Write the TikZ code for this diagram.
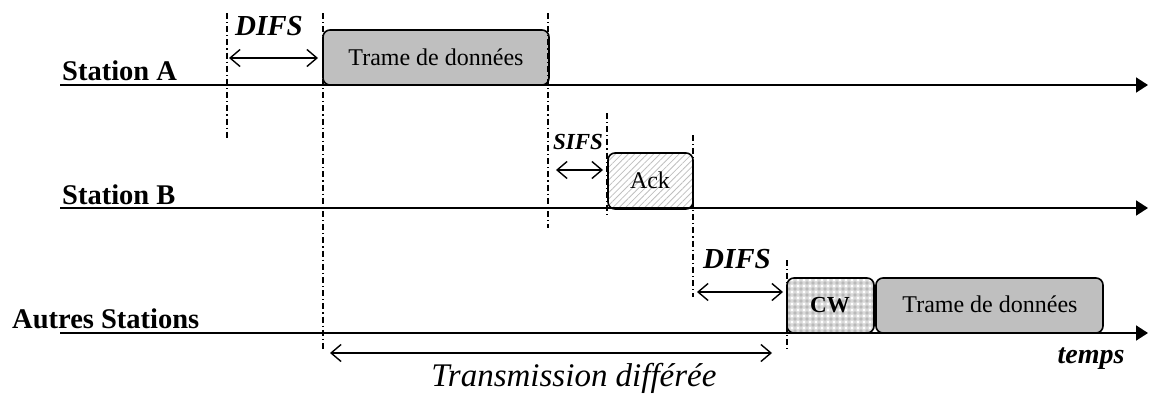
\documentclass[tikz,border=0pt]{standalone}
\usepackage{fontspec}
\setmainfont{Liberation Serif}
\usetikzlibrary{arrows.meta,patterns.meta}
\begin{document}
\begin{tikzpicture}[x=1pt,y=-1pt,
  timeline/.style={line width=1.8pt, -{Triangle[length=12pt,width=15pt]}},
  guide/.style={line width=1.1pt, dash pattern=on 6pt off 3pt on 1.2pt off 3pt},
  span/.style={line width=1.4pt, {Straight Barb[length=10pt,width=17pt,line width=1.4pt]}-{Straight Barb[length=10pt,width=17pt,line width=1.4pt]}},
  frame/.style={draw, line width=1.6pt, rounded corners=7pt, inner sep=0pt, outer sep=0pt, anchor=north west},
  station/.style={font=\fontsize{28.5}{32}\selectfont\bfseries, anchor=base west, inner sep=0pt},
  boxtext/.style={font=\fontsize{24}{28}\selectfont, anchor=base, inner sep=0pt},
  ifs/.style={font=\fontsize{29}{32}\selectfont\bfseries\itshape, anchor=base, inner sep=0pt},
]
\useasboundingbox (0,0) rectangle (1149,394);

% boxes
\node[frame, fill=gray!50, minimum width=226pt, minimum height=55pt] (trameA) at (323,30) {};
\node[frame, fill=white, pattern={Lines[angle=45,distance=4.5pt,line width=0.8pt]}, pattern color=gray!50, minimum width=85pt, minimum height=56pt] (ack) at (608,153) {};
\node[frame, preaction={fill=gray!30},
  preaction={pattern={Dots[radius=1.6pt,distance=6pt]}, pattern color=white},
  pattern={Dots[radius=1.9pt,distance=6pt,xshift=3pt,yshift=3pt]}, pattern color=gray!55,
  minimum width=87pt, minimum height=55pt] (cw) at (787,278) {};
\node[frame, fill=gray!50, minimum width=227pt, minimum height=55pt] (trameB) at (876,278) {};

% box texts
\node[boxtext] (tA) at (436,65) {Trame de données};
\node[boxtext] (tAck) at (650,188) {Ack};
\node[boxtext, font=\fontsize{23}{28}\selectfont\bfseries] (tCW) at (830,312) {CW};
\node[boxtext] (tB) at (990,312) {Trame de données};

% timelines
\coordinate (sA) at (60,85);  \coordinate (eA) at (1148,85);
\coordinate (sB) at (60,208); \coordinate (eB) at (1148,208);
\coordinate (sC) at (60,333); \coordinate (eC) at (1148,333);
\draw[timeline] (sA) -- (eA);
\draw[timeline] (sB) -- (eB);
\draw[timeline] (sC) -- (eC);

% station labels
\node[station] (labA) at (62,80) {Station A};
\node[station] (labB) at (62,204) {Station B};
\node[station] (labC) at (12,328) {Autres Stations};

% guides
\coordinate (g1t) at (227,13);  \coordinate (g1b) at (227,138);
\coordinate (g2t) at (323,13);  \coordinate (g2b) at (323,350);
\coordinate (g3t) at (548,13);  \coordinate (g3b) at (548,228);
\coordinate (g4t) at (607,113); \coordinate (g4b) at (607,215);
\coordinate (g5t) at (693,135); \coordinate (g5b) at (693,297);
\coordinate (g6t) at (787,260); \coordinate (g6b) at (787,350);
\draw[guide] (g1t) -- (g1b);
\draw[guide] (g2t) -- (g2b);
\draw[guide] (g3t) -- (g3b);
\draw[guide] (g4t) -- (g4b);
\draw[guide] (g5t) -- (g5b);
\draw[guide] (g6t) -- (g6b);

% spans
\coordinate (d1a) at (229,58);  \coordinate (d1b) at (318,58);
\coordinate (s1a) at (556,170); \coordinate (s1b) at (603,170);
\coordinate (d2a) at (697,292); \coordinate (d2b) at (783,292);
\coordinate (tra) at (330,353); \coordinate (trb) at (772,353);
\draw[span] (d1a) -- (d1b);
\draw[span] (s1a) -- (s1b);
\draw[span] (d2a) -- (d2b);
\draw[span] (tra) -- (trb);

% labels
\node[ifs] (difs1) at (269,35) {DIFS};
\node[ifs, font=\fontsize{23}{26}\selectfont\bfseries\itshape] (sifs) at (578,149) {SIFS};
\node[ifs] (difs2) at (737,268) {DIFS};
\node[ifs, font=\fontsize{28}{32}\selectfont\bfseries\itshape] (temps) at (1091,363) {temps};
\node[boxtext, font=\fontsize{33}{36}\selectfont\itshape] (trans) at (574,386) {Transmission différée};
\end{tikzpicture}
\end{document}
